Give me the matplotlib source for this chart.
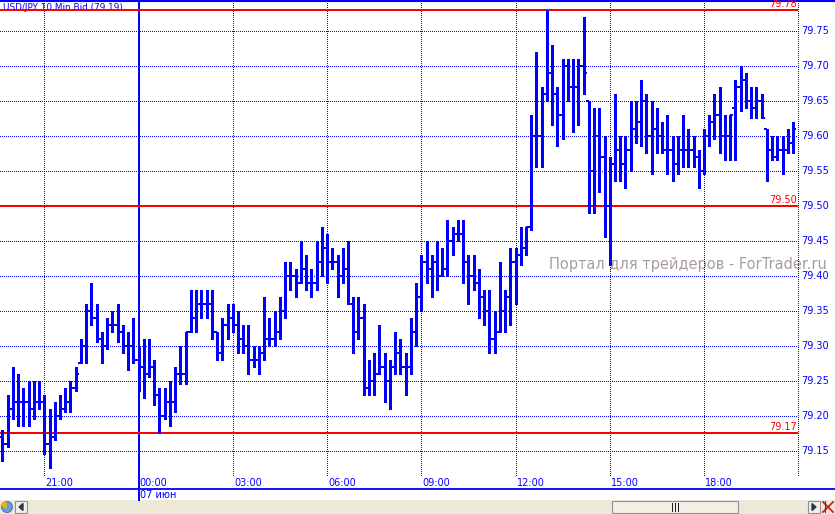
import numpy as np
import matplotlib.pyplot as plt
from matplotlib.patches import Rectangle, Polygon, Circle
from matplotlib.transforms import blended_transform_factory

W, H = 835, 514
BLUE = '#0000FF'
RED = '#FF0000'

title = 'USD/JPY 10 Min Bid (79.19)'
watermark = 'Портал для трейдеров - ForTrader.ru'
date_label = '07 июн'

# 10 minute bars, 19:40 .. 20:50 next day
bar_high = [79.18, 79.23, 79.27, 79.26, 79.24, 79.25, 79.25, 79.25, 79.23, 79.21,
            79.22, 79.23, 79.24, 79.25, 79.27, 79.31, 79.36, 79.39, 79.36, 79.32,
            79.34, 79.35, 79.36, 79.33, 79.32, 79.34, 79.30, 79.31, 79.31, 79.28,
            79.24, 79.24, 79.25, 79.27, 79.30, 79.32, 79.38, 79.38, 79.38, 79.38,
            79.38, 79.32, 79.34, 79.36, 79.36, 79.35, 79.33, 79.33, 79.30, 79.30,
            79.37, 79.34, 79.35, 79.37, 79.42, 79.42, 79.41, 79.45, 79.43, 79.41,
            79.45, 79.47, 79.46, 79.44, 79.43, 79.44, 79.45, 79.37, 79.37, 79.36,
            79.28, 79.29, 79.33, 79.29, 79.28, 79.32, 79.31, 79.29, 79.34, 79.39,
            79.43, 79.45, 79.43, 79.45, 79.44, 79.48, 79.47, 79.48, 79.48, 79.43,
            79.43, 79.41, 79.38, 79.38, 79.35, 79.42, 79.38, 79.44, 79.44, 79.47,
            79.47, 79.63, 79.72, 79.67, 79.78, 79.73, 79.67, 79.71, 79.71, 79.71,
            79.71, 79.77, 79.65, 79.64, 79.64, 79.60, 79.57, 79.66, 79.60, 79.60,
            79.65, 79.65, 79.68, 79.66, 79.65, 79.64, 79.62, 79.63, 79.60, 79.60,
            79.63, 79.61, 79.60, 79.58, 79.61, 79.63, 79.66, 79.67, 79.63, 79.63,
            79.68, 79.70, 79.69, 79.67, 79.67, 79.66, 79.61, 79.60, 79.60, 79.60,
            79.61, 79.62]
bar_low = [79.135, 79.155, 79.195, 79.185, 79.185, 79.185, 79.195, 79.21, 79.145, 79.125,
           79.165, 79.195, 79.205, 79.205, 79.235, 79.275, 79.275, 79.33, 79.305, 79.275,
           79.295, 79.32, 79.305, 79.29, 79.265, 79.275, 79.235, 79.225, 79.255, 79.215,
           79.175, 79.195, 79.185, 79.205, 79.245, 79.245, 79.32, 79.32, 79.34, 79.34,
           79.31, 79.28, 79.28, 79.31, 79.32, 79.29, 79.29, 79.26, 79.27, 79.26,
           79.28, 79.30, 79.30, 79.31, 79.34, 79.38, 79.37, 79.39, 79.38, 79.37,
           79.38, 79.40, 79.39, 79.41, 79.37, 79.39, 79.36, 79.29, 79.31, 79.23,
           79.23, 79.23, 79.26, 79.22, 79.21, 79.26, 79.26, 79.23, 79.26, 79.30,
           79.35, 79.39, 79.37, 79.38, 79.40, 79.40, 79.43, 79.45, 79.39, 79.36,
           79.38, 79.34, 79.33, 79.29, 79.29, 79.32, 79.32, 79.33, 79.36, 79.415,
           79.43, 79.465, 79.555, 79.555, 79.65, 79.615, 79.585, 79.595, 79.65, 79.605,
           79.615, 79.66, 79.49, 79.49, 79.52, 79.455, 79.415, 79.535, 79.535, 79.525,
           79.55, 79.59, 79.585, 79.575, 79.545, 79.575, 79.575, 79.545, 79.535, 79.545,
           79.555, 79.555, 79.555, 79.525, 79.545, 79.585, 79.595, 79.575, 79.565, 79.565,
           79.565, 79.635, 79.64, 79.625, 79.625, 79.625, 79.535, 79.565, 79.565, 79.545,
           79.575, 79.575]
bar_close = [79.16, 79.21, 79.22, 79.22, 79.22, 79.21, 79.22, 79.22, 79.16, 79.17,
             79.20, 79.21, 79.22, 79.24, 79.26, 79.30, 79.35, 79.34, 79.31, 79.30,
             79.33, 79.33, 79.32, 79.30, 79.30, 79.28, 79.27, 79.26, 79.27, 79.23,
             79.20, 79.22, 79.22, 79.26, 79.26, 79.32, 79.34, 79.36, 79.36, 79.36,
             79.32, 79.29, 79.33, 79.34, 79.33, 79.31, 79.30, 79.28, 79.28, 79.29,
             79.31, 79.31, 79.32, 79.35, 79.40, 79.40, 79.39, 79.41, 79.39, 79.39,
             79.42, 79.44, 79.42, 79.42, 79.40, 79.41, 79.36, 79.32, 79.34, 79.24,
             79.25, 79.26, 79.27, 79.25, 79.27, 79.29, 79.27, 79.27, 79.32, 79.37,
             79.42, 79.41, 79.42, 79.40, 79.41, 79.45, 79.46, 79.46, 79.42, 79.40,
             79.39, 79.37, 79.35, 79.31, 79.32, 79.35, 79.37, 79.42, 79.43, 79.44,
             79.47, 79.60, 79.60, 79.66, 79.69, 79.66, 79.63, 79.70, 79.67, 79.67,
             79.70, 79.69, 79.55, 79.60, 79.57, 79.50, 79.56, 79.58, 79.56, 79.58,
             79.61, 79.62, 79.65, 79.60, 79.61, 79.60, 79.58, 79.58, 79.56, 79.58,
             79.58, 79.58, 79.57, 79.55, 79.60, 79.62, 79.63, 79.60, 79.60, 79.64,
             79.67, 79.68, 79.65, 79.64, 79.65, 79.62, 79.58, 79.57, 79.58, 79.58,
             79.59, 79.61]
first_open = 79.17

price_ticks = [79.15, 79.20, 79.25, 79.30, 79.35, 79.40, 79.45, 79.50,
               79.55, 79.60, 79.65, 79.70, 79.75]
time_labels = ['21:00', '00:00', '03:00', '06:00', '09:00', '12:00', '15:00', '18:00', '']
time_bars = [8, 26, 44, 62, 80, 98, 116, 134, 152]   # bar index of each label
day_bar = 26

level_values = [79.78, 79.50, 79.175]
level_labels = ['79.78', '79.50', '79.17']

hi = np.array(bar_high)
lo = np.array(bar_low)
cl = np.array(bar_close)
op = np.clip(np.r_[first_open, cl[:-1]], lo, hi)
cl = np.clip(cl, lo, hi)
xb = np.arange(len(hi))

# pixel geometry of the price area
step = 5.236
x0 = 2.4
def xpix(px):
    return (px - x0) / step
ytop = 79.75 + 28.7 / 700
ybot = 79.75 - (477 - 30.7) / 700

fig = plt.figure(figsize=(W / 100, H / 100), dpi=100)
fig.patch.set_facecolor('white')

ui = fig.add_axes([0, 0, 1, 1], zorder=0)
ui.set_xlim(0, W)
ui.set_ylim(H, 0)
ui.axis('off')

ax = fig.add_axes([0, 1 - 477 / H, 799 / W, 475 / H], zorder=1)
ax.set_facecolor('none')
ax.set_xlim(xpix(0), xpix(799))
ax.set_ylim(ybot, ytop)
ax.axis('off')

# grid (dotted, 1 px on / 2 px off)
dots = (0, (1, 2))
ax.hlines(price_ticks, xpix(0), xpix(797), colors=BLUE, lw=0.72, linestyles=dots,
          antialiased=False)
for b in time_bars:
    if b != day_bar:
        ax.vlines(b, ybot, ytop, colors=BLUE, lw=0.72, linestyles=dots, antialiased=False)
ax.axvline(day_bar, ymin=-(500 - 477) / 475, ymax=1, color=BLUE, lw=1.1, clip_on=False,
           antialiased=False)

# support/resistance levels
ax.hlines(level_values, xpix(0), xpix(797.5), colors=RED, lw=1.44, zorder=2,
          antialiased=False)
for v, t in zip(level_values, level_labels):
    ax.text(xpix(797), v + 0.001, t, color=RED, fontsize=7, ha='right', va='bottom',
            clip_on=False, zorder=2)

# watermark behind bars
ui.text(549, 265, watermark, color='#A99E9E', fontsize=10.5, ha='left', va='center')

# OHLC bars
ax.vlines(xb, lo, hi, colors=BLUE, lw=2.16, zorder=3, antialiased=False)
ax.hlines(op, xb - 0.6, xb, colors=BLUE, lw=1.3, zorder=3, antialiased=False)
ax.hlines(cl, xb, xb + 0.6, colors=BLUE, lw=1.3, zorder=3, antialiased=False)

# price labels on the right
for p in price_ticks:
    ax.text(xpix(801), p, '%.2f' % p, color=BLUE, fontsize=7, ha='left', va='center',
            clip_on=False)

# time labels
tb = blended_transform_factory(ax.transData, ax.transAxes)
for b, t in zip(time_bars, time_labels):
    ax.text(b + 0.25, -5.5 / 475, t, transform=tb, color=BLUE, fontsize=7,
            ha='left', va='center', clip_on=False)
ax.text(day_bar + 0.25, -17.5 / 475, date_label, transform=tb, color=BLUE, fontsize=7,
        ha='left', va='center', clip_on=False)

# frame lines
ui.plot([0, W], [0.8, 0.8], color=BLUE, lw=1.5)
ui.plot([0, W], [488.7, 488.7], color=BLUE, lw=1.3)

# title
ui.text(3, 7.5, title, color=BLUE, fontsize=6.4, ha='left', va='center', zorder=5)

# scroll bar strip
ui.add_patch(Rectangle((0, 500), W, 14, color='#ECE9D8', lw=0))
ui.add_patch(Rectangle((612, 500.5), 126, 12.5, facecolor='#F1EFE6', edgecolor='#8E9398', lw=0.8))
ui.text(675, 507, '|||', color='black', fontsize=6, fontweight='bold', ha='center', va='center')
ui.add_patch(Rectangle((15, 500.5), 12, 12.5, facecolor='#F1EFE6', edgecolor='#8E9398', lw=0.8))
ui.add_patch(Polygon([[19, 507], [23, 503.5], [23, 510.5]], closed=True, color='#2B3A44'))
ui.add_patch(Rectangle((808, 500.5), 12, 12.5, facecolor='#F1EFE6', edgecolor='#8E9398', lw=0.8))
ui.add_patch(Polygon([[816, 507], [812, 503.5], [812, 510.5]], closed=True, color='#2B3A44'))
ui.plot([823, 833], [502, 512], color='#D02020', lw=1.3)
ui.plot([823, 833], [512, 502], color='#D02020', lw=1.3)
ui.plot([825, 825], [501, 512], color='#404040', lw=0.8)
ui.add_patch(Circle((7, 507), 5.5, facecolor='#6B9BD8', edgecolor='#3A68A8', lw=0.6))
ui.add_patch(Polygon([[1, 505], [6, 502], [6, 508]], closed=True, color='#F0B400'))

fig.savefig('out.png', dpi=100)
